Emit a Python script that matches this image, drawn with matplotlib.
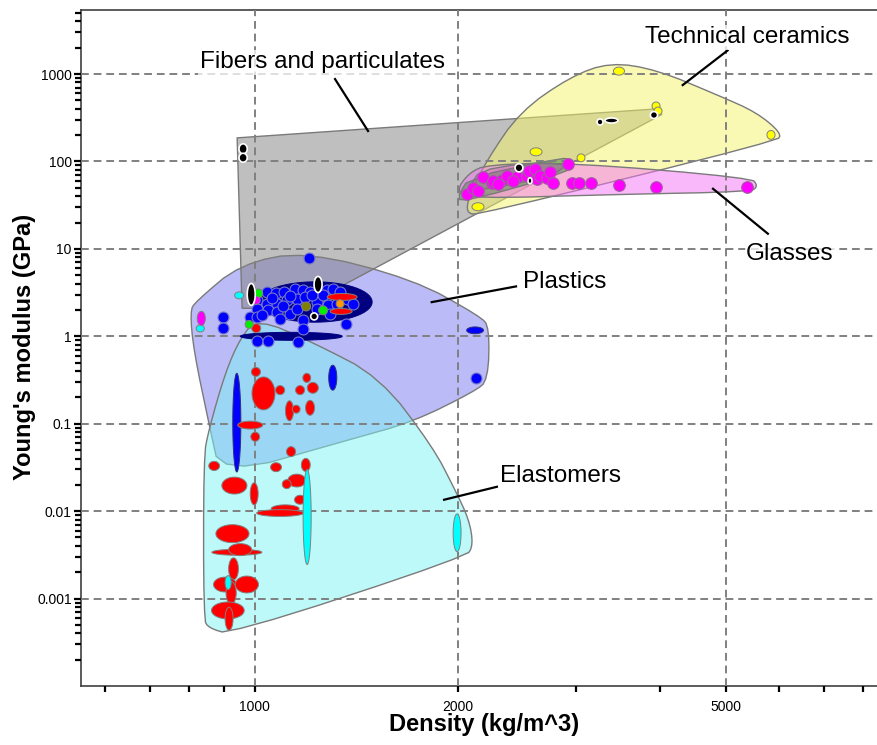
import numpy as np
import matplotlib
matplotlib.use('Agg')
import matplotlib.pyplot as plt
from matplotlib.colors import to_rgba
from matplotlib.ticker import FixedLocator, FixedFormatter, NullFormatter

plt.rcParams['font.family'] = ['Liberation Sans', 'DejaVu Sans']

# ---- envelopes (density kg/m^3, Young's modulus GPa) ----
fibers_env = [(942, 186), (3925, 398), (4021, 345), (1168, 2.09), (958, 2.09)]
plastics_env = [(1188, 9.4), (1718, 4.5), (2159, 1.7), (2230, 1.27), (2220, 0.315),
                (2120, 0.235), (1718, 0.105), (1385, 0.066), (890, 0.025), (855, 0.102),
                (812, 0.69), (802, 1.95), (818, 2.5), (952, 6.7)]
elastomers_env = [(1009, 1.6), (1221, 0.85), (1535, 0.34), (1839, 0.054), (1983, 0.0175),
                  (2080, 0.008), (2110, 0.0041), (2060, 0.003), (920, 0.00039),
                  (855, 0.00046), (840, 0.00058), (840, 0.0417), (855, 0.085),
                  (904, 0.38), (952, 0.95)]
ceramics_env = [(2060, 25.5), (2080, 40.5), (2213, 105), (2475, 370), (2938, 930),
                (3368, 1360), (3950, 1120), (4898, 560), (5550, 365), (6050, 210),
                (5950, 170), (2159, 24.8)]
glasses_env = [(1990, 46.2), (2080, 74), (2213, 92), (2938, 97), (5450, 65),
               (5580, 52.7), (5450, 45), (3483, 42), (2087, 37.5)]
green_env = [(1990, 37), (2080, 65), (2838, 110), (2990, 103), (2880, 72), (2087, 36)]
purple_env = [(2087, 52.7), (2159, 78), (2475, 94), (2838, 96.4), (2887, 82.4),
              (2650, 63.3), (2159, 46.2)]

# ---- material bubbles: (rho_min, rho_max, E_min, E_max) ----
navy_bubbles = [(1012, 1494, 1.45, 4.2), (952, 1349, 0.90, 1.11)]
blue_bubbles = [(928, 954, 0.028, 0.378), (1288, 1324, 0.242, 0.467), (2063, 2185, 1.07, 1.28)]
red_bubbles = [
    (989, 1020, 0.348, 0.441), (991, 1072, 0.144, 0.343), (1074, 1108, 0.215, 0.273),
    (1111, 1142, 0.108, 0.183), (1137, 1168, 0.132, 0.163), (1150, 1186, 0.215, 0.273),
    (1179, 1211, 0.297, 0.377), (1197, 1243, 0.223, 0.297), (1190, 1227, 0.125, 0.185),
    (944, 1028, 0.087, 0.107), (987, 1017, 0.063, 0.080), (1115, 1150, 0.0421, 0.0547),
    (1056, 1096, 0.0283, 0.0358), (1173, 1209, 0.0285, 0.0401), (855, 887, 0.0292, 0.0371),
    (894, 974, 0.0157, 0.0245), (985, 1012, 0.0118, 0.0211), (1120, 1191, 0.0189, 0.0265),
    (1099, 1133, 0.0181, 0.0229), (1146, 1190, 0.0120, 0.0152), (1058, 1164, 0.0096, 0.0118),
    (1007, 1182, 0.0087, 0.0104), (876, 981, 0.00436, 0.0070), (864, 1025, 0.00313, 0.00366),
    (915, 990, 0.0031, 0.00425), (915, 946, 0.00164, 0.00292), (869, 940, 0.00119, 0.00176),
    (936, 1013, 0.00116, 0.00181), (907, 939, 0.00086, 0.00157), (863, 965, 0.000585, 0.000914),
    (904, 929, 0.000435, 0.000796)]
cyan_bubbles = [(1180, 1213, 0.00245, 0.030), (1970, 2024, 0.00344, 0.0093),
                (904, 923, 0.00127, 0.00183), (819, 842, 1.12, 1.35), (934, 963, 2.68, 3.22)]
red_plastic_bubbles = [(990, 1021, 1.10, 1.39), (1281, 1419, 2.57, 3.09), (1294, 1395, 1.78, 2.08)]
other_bubbles = {
    '#ff9900': [(1321, 1357, 2.12, 2.62)],
    '#808000': [(1174, 1211, 1.95, 2.47)],
    '#00ee00': [(997, 1028, 2.75, 3.48), (1244, 1283, 1.76, 2.23), (968, 995, 1.23, 1.52)],
    '#ff00ff': [(822, 845, 1.33, 1.93), (992, 1019, 2.32, 2.86)],
}
yellow_bubbles = [(3406, 3537, 971, 1200), (3886, 3994, 387, 479), (3913, 4021, 340, 419),
                  (5754, 5916, 179, 226), (2562, 2669, 116, 143), (3008, 3091, 99, 122),
                  (2101, 2189, 27.3, 33.7)]
black_bubbles = [(948, 975, 122, 159), (948, 975, 98, 124), (1225, 1259, 3.17, 4.83),
                 (975, 1002, 2.26, 4.02), (1211, 1240, 1.54, 1.85), (2434, 2500, 76, 94),
                 (2544, 2579, 55.6, 65), (3221, 3287, 261, 306), (3309, 3459, 275, 314),
                 (3864, 3960, 310, 372)]

# plastics grades (circles)
blue_rho = [1043, 1076, 1107, 1148, 1181, 1209, 1251, 1280, 1309, 1008, 1043, 1079, 1116,
            1155, 1188, 1237, 1286, 1324, 1370, 1401, 1008, 1048, 1079, 1091, 1129, 1155,
            1181, 1181, 1237, 1294, 985, 1008, 1025, 899, 899, 1365, 1008, 1048, 1159,
            2130, 1202, 1130, 1215, 1262, 1340, 1060, 1100]
blue_E = [3.20, 3.12, 3.20, 3.50, 3.35, 3.20, 2.81, 3.35, 3.50, 2.57, 2.36, 2.36, 2.57,
          2.69, 2.81, 2.46, 2.26, 2.36, 2.69, 2.36, 2.07, 2.01, 1.89, 1.59, 1.81, 2.07,
          1.52, 1.22, 2.07, 1.81, 1.66, 1.66, 1.74, 1.66, 1.26, 1.37, 0.884, 0.884, 0.861,
          0.334, 7.9, 2.9, 2.95, 3.0, 3.2, 2.75, 2.2]

# glasses (circles)
glass_rho = [2066, 2109, 2145, 2183, 2250, 2258, 2328, 2366, 2449, 2535, 2557, 2606, 2624,
             2650, 2716, 2744, 2771, 2917, 2957, 3027, 3155, 3470, 3938, 5373, 2300, 2420]
glass_E = [42.7, 50, 46, 67, 56, 60, 62, 68, 67, 68, 78, 82, 63, 68, 65, 76, 57, 94, 57,
           57, 57, 54, 51, 51, 55, 60]

# labels: text, anchor (rho, E), leader line ((rho0, E0), (rho1, E1))
labels = [
    ('Fibers and particulates', (1259, 1167), ((1316, 875), (1473, 223))),
    ('Technical ceramics', (5383, 2250), ((5030, 1858), (4315, 747))),
    ('Glasses', (6223, 7.55), ((5773, 14.9), (4786, 48.7))),
    ('Plastics', (2886, 3.53), ((2442, 3.72), (1831, 2.46))),
    ('Elastomers', (2838, 0.0216), ((2288, 0.019), (1910, 0.0135))),
]


def envelope(ax, pts, color, alpha=0.5, smooth=2, z=1):
    p = np.log10(np.array(pts, float))
    for _ in range(smooth):
        q = np.roll(p, -1, axis=0)
        a = 0.75 * p + 0.25 * q
        b = 0.25 * p + 0.75 * q
        p = np.empty((2 * len(a), 2))
        p[0::2] = a
        p[1::2] = b
    ax.fill(10 ** p[:, 0], 10 ** p[:, 1], fc=to_rgba(color, alpha), ec='#7a7a7a',
            lw=1.0, zorder=z)


def bubbles(ax, items, fc, ec='#808080', lw=0.7, z=3):
    t = np.linspace(0, 2 * np.pi, 60)
    for r0, r1, e0, e1 in items:
        lr0, lr1, le0, le1 = np.log10([r0, r1, e0, e1])
        x = 10 ** ((lr0 + lr1) / 2 + (lr1 - lr0) / 2 * np.cos(t))
        y = 10 ** ((le0 + le1) / 2 + (le1 - le0) / 2 * np.sin(t))
        ax.fill(x, y, fc=fc, ec=ec, lw=lw, zorder=z)


fig = plt.figure(figsize=(8.77, 7.45), dpi=100)
ax = fig.add_axes([0.092, 0.0792, 0.908, 0.9074])
ax.set_xscale('log')
ax.set_yscale('log')
ax.set_xlim(552, 8380)
ax.set_ylim(1e-4, 5400)

envelope(ax, plastics_env, '#7878f0', z=1.0)
envelope(ax, elastomers_env, '#7cf4f4', z=1.1)
envelope(ax, fibers_env, '#808080', smooth=0, z=1.2)
envelope(ax, ceramics_env, '#f5f568', z=1.3)
envelope(ax, glasses_env, '#f573f5', z=1.4)
envelope(ax, green_env, '#3c8c3c', alpha=0.45, smooth=1, z=1.5)
envelope(ax, purple_env, '#b050b0', alpha=0.3, smooth=1, z=1.6)

ax.set_axisbelow(False)
ax.grid(True, which='major', color='#808080', ls=(0, (4, 2.5)), lw=1.4)

bubbles(ax, navy_bubbles, '#000080', ec='#000080', z=3.0)
bubbles(ax, blue_bubbles, '#0000ff', ec='#303080', z=3.1)
bubbles(ax, red_bubbles, '#ff0000', z=3.2)
bubbles(ax, cyan_bubbles, '#00ffff', z=3.3)
ax.scatter(blue_rho, blue_E, s=62, c='#0000ff', edgecolors='#7878c8', linewidths=0.8, zorder=3.4)
bubbles(ax, red_plastic_bubbles, '#ff0000', z=3.5)
for col, items in other_bubbles.items():
    bubbles(ax, items, col, z=3.6)
bubbles(ax, yellow_bubbles, '#ffff00', z=3.7)
ax.scatter(glass_rho, glass_E, s=70, c='#ff00ff', edgecolors='#a060a0', linewidths=0.8, zorder=3.8)
bubbles(ax, black_bubbles, '#000000', ec='white', lw=1.2, z=3.9)

for text, pos, line in labels:
    (x0, y0), (x1, y1) = line
    ax.plot([x0, x1], [y0, y1], color='black', lw=1.6, zorder=5)
    ax.text(pos[0], pos[1], text, fontsize=17.5, ha='center', va='baseline', zorder=6,
            bbox=dict(facecolor='white', edgecolor='none', alpha=0.75, pad=1))

# ticks
ax.xaxis.set_major_locator(FixedLocator([1000, 2000, 5000]))
ax.xaxis.set_major_formatter(FixedFormatter(['1000', '2000', '5000']))
ax.xaxis.set_minor_locator(FixedLocator([600, 700, 800, 900, 3000, 4000, 6000, 7000, 8000]))
ax.xaxis.set_minor_formatter(NullFormatter())
ydec = [0.001, 0.01, 0.1, 1, 10, 100, 1000]
ax.yaxis.set_major_locator(FixedLocator(ydec))
ax.yaxis.set_major_formatter(FixedFormatter(['0.001', '0.01', '0.1', '1', '10', '100', '1000']))
yminor = [m * 10.0 ** k for k in range(-4, 4) for m in range(2, 10)]
ax.yaxis.set_minor_locator(FixedLocator(yminor))
ax.yaxis.set_minor_formatter(NullFormatter())
ax.tick_params(which='both', direction='out', colors='black', width=1.6, labelsize=10)
ax.tick_params(axis='x', which='both', length=4, pad=6)
ax.tick_params(axis='y', which='major', length=5, pad=1.5)
ax.tick_params(axis='y', which='minor', length=4)

for s in ['left', 'bottom', 'top']:
    ax.spines[s].set_color('#404040')
    ax.spines[s].set_linewidth(1.2)
ax.spines['right'].set_visible(False)

fig.text(484 / 877, 1 - 725 / 745, 'Density (kg/m^3)', fontsize=17, fontweight='bold',
         ha='center', va='center')
fig.text(25 / 877, 1 - 347 / 745, "Young's modulus (GPa)", fontsize=17, fontweight='bold',
         ha='center', va='center', rotation=90)

fig.savefig('out.png', dpi=100)
